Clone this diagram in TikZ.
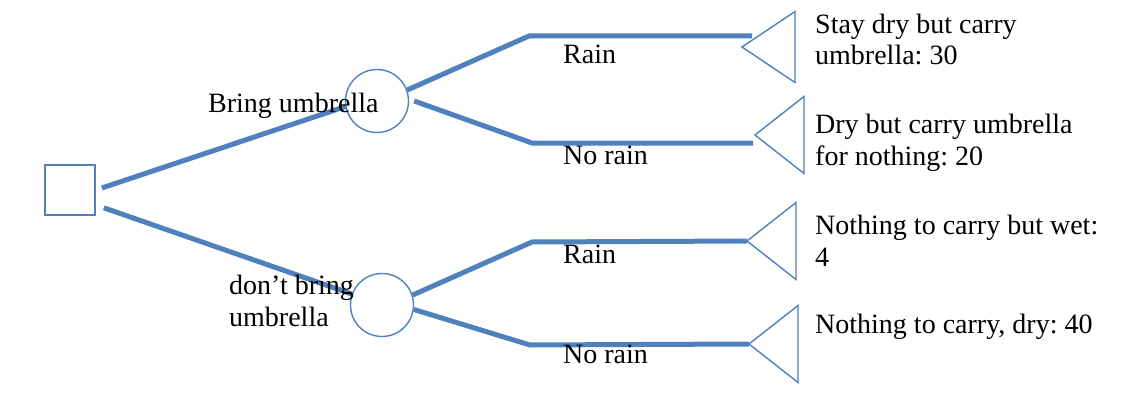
\documentclass[tikz,border=0pt]{standalone}
\usepackage{fontspec}
\setmainfont{Liberation Serif}
\usetikzlibrary{shapes.geometric}
\definecolor{branchblue}{RGB}{79,129,189}
\frenchspacing

\begin{document}
\begin{tikzpicture}[x=1pt, y=-1pt,
   decision/.style={rectangle, draw=branchblue, line width=1.6pt, minimum size=50pt, inner sep=0pt},
   chance/.style={circle, draw=branchblue, line width=1.4pt, minimum size=63pt, inner sep=0pt},
   payoff/.style={isosceles triangle, isosceles triangle stretches, rotate=180, draw=branchblue, line width=1.4pt, minimum height=49pt, minimum width=77pt, inner sep=0pt, outer sep=0pt, anchor=apex},
   branch/.style={draw=branchblue, line width=5pt},
   txt/.style={anchor=base west, inner sep=0pt, align=left, font=\fontsize{28}{32}\selectfont}]
   \useasboundingbox[fill=white] (0,0) rectangle (1128,404);
   \node (d) at (70,190) [decision] {};
   \node (c1) at (377,101) [chance] {};
   \node (c2) at (382,305) [chance] {};
   \node (t1) at (742,47) [payoff, minimum height=53pt, minimum width=71pt] {};
   \node (t2) at (755,135) [payoff] {};
   \node (t3) at (747,241) [payoff] {};
   \node (t4) at (749,344) [payoff] {};
   \coordinate (k1) at (529,36);
   \coordinate (k2) at (532,143);
   \coordinate (k3) at (532,242);
   \coordinate (k4) at (530,345);
   \draw[branch] ([xshift=6pt,yshift=2pt]d.east) -- (c1.190);
   \draw[branch] ([xshift=8pt,yshift=8pt]d.south east) -- (c2.160);
   \draw[branch] (c1.20) -- (k1) -- ([xshift=10pt,yshift=11pt]t1.apex);
   \draw[branch] ([xshift=5pt]c1.east) -- (k2) -- ([xshift=-2pt,yshift=-8pt]t2.apex);
   \draw[branch] (c2.18) -- (k3) -- (t3.apex);
   \draw[branch] (c2.-8) -- (k4) -- (t4.apex);
   \node (bring) at (208,112) [txt] {Bring umbrella};
   \node (dont) at (229,326) [txt] {don’t bring\\umbrella};
   \node (rain1) at (563,64) [txt] {Rain};
   \node (norain1) at (563,164) [txt] {No rain};
   \node (rain2) at (563,263) [txt] {Rain};
   \node (norain2) at (563,363) [txt] {No rain};
   \node (pay1) at (815,65) [txt] {Stay dry but carry\\umbrella: 30};
   \node (pay2) at (815,165) [txt] {Dry but carry umbrella\\for nothing: 20};
   \node (pay3) at (815,266) [txt] {Nothing to carry but wet:\\4};
   \node (pay4) at (815,333) [txt] {Nothing to carry, dry: 40};
\end{tikzpicture}
\end{document}
